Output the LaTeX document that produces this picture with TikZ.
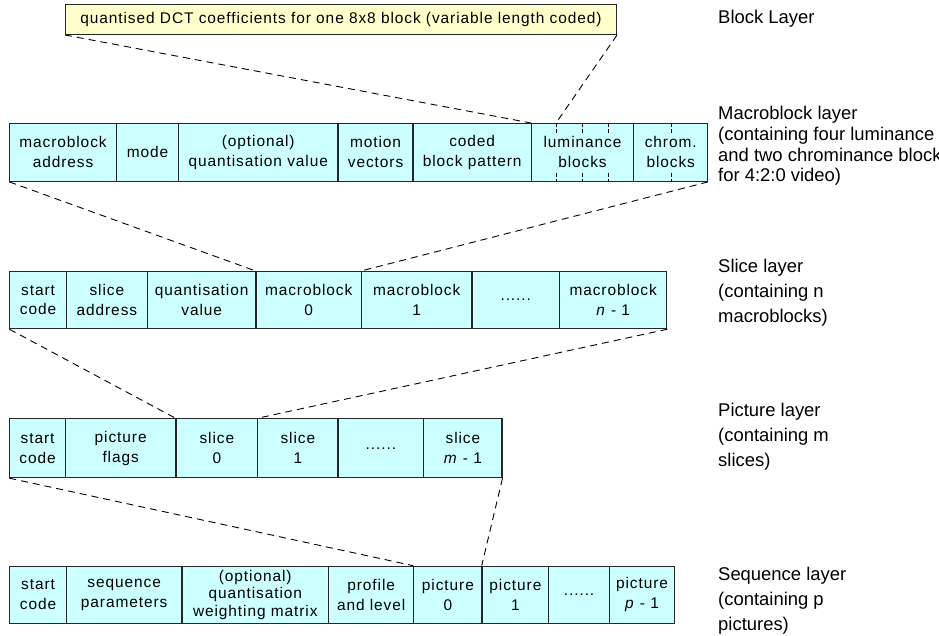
\documentclass[tikz,border=0pt]{standalone}
\usepackage{fontspec}
\setmainfont{Liberation Sans}
\newfontfamily\cellfont[LetterSpace=6]{Liberation Sans}
\definecolor{cellcyan}{HTML}{CCFFFF}
\definecolor{blockyellow}{HTML}{FFFFCC}

\begin{document}
\begin{tikzpicture}[x=1bp,y=-1bp,
  cell/.style={draw=black!85,line width=1.1bp,fill=cellcyan,anchor=north west,
    inner sep=0pt,align=center,font=\cellfont\fontsize{15.5}{20}\selectfont},
  blockbox/.style={cell,fill=blockyellow},
  layer/.style={anchor=base west,inner sep=0pt,align=left,
    font=\fontsize{18.5}{25}\selectfont},
  link/.style={draw=black,line width=0.9bp,dash pattern=on 7bp off 5bp},
  tick/.style={draw=black,line width=0.9bp,dash pattern=on 4bp off 2bp}]
\useasboundingbox (0,0) rectangle (939,636);

% block layer
\node[blockbox,minimum width=553,minimum height=30] (blk) at (65,4)
  {quantised DCT coefficients for one 8x8 block (variable length coded)};

% macroblock layer
\node[cell,minimum width=106.7,minimum height=58] (mbaddr) at (9.3,123) {macroblock\\address};
\node[cell,minimum width=62.3,minimum height=58] (mbmode) at (116,123) {mode};
\node[cell,minimum width=159.4,minimum height=58] (mbquant) at (178.3,123) {(optional)\\quantisation value};
\node[cell,minimum width=75,minimum height=58] (mbmv) at (337.7,123) {motion\\vectors};
\node[cell,minimum width=118.3,minimum height=58] (mbcbp) at (412.7,123) {coded\\block pattern};
\node[cell,minimum width=102.3,minimum height=58] (mblum) at (531,123) {luminance\\blocks};
\node[cell,minimum width=74,minimum height=58] (mbchr) at (633.3,123) {chrom.\\blocks};
\coordinate (lum1) at (556,123);
\foreach \x in {556,582.3,608.3,671.7} {
  \draw[tick] (\x,123) -- (\x,135);
  \draw[tick] (\x,173) -- (\x,181);
}

% slice layer
\node[cell,minimum width=56.7,minimum height=57.3] (slstart) at (9.3,271) {start\\code};
\node[cell,minimum width=81,minimum height=57.3] (sladdr) at (66,271) {slice\\address};
\node[cell,minimum width=108.7,minimum height=57.3] (slquant) at (147,271) {quantisation\\value};
\node[cell,minimum width=105.3,minimum height=57.3] (slmb0) at (255.7,271) {macroblock\\0};
\node[cell,minimum width=110.7,minimum height=57.3] (slmb1) at (361,271) {macroblock\\1};
\node[cell,minimum width=87.3,minimum height=57.3] (sldots) at (471.7,271) {......};
\node[cell,minimum width=107.7,minimum height=57.3] (slmbn) at (559,271) {macroblock\\\textit{n} - 1};

% picture layer
\node[cell,minimum width=55.7,minimum height=59] (pcstart) at (9.3,418.3) {start\\code};
\node[cell,minimum width=110.7,minimum height=59] (pcflags) at (65,418.3) {picture\\flags};
\node[cell,minimum width=81.6,minimum height=59] (pcsl0) at (175.7,418.3) {slice\\0};
\node[cell,minimum width=80.4,minimum height=59] (pcsl1) at (257.3,418.3) {slice\\1};
\node[cell,minimum width=85.6,minimum height=59] (pcdots) at (337.7,418.3) {......};
\node[cell,minimum width=78.4,minimum height=59] (pcslm) at (423.3,418.3) {slice\\\textit{m} - 1};

% sequence layer
\node[cell,minimum width=56.7,minimum height=57.6] (sqstart) at (9.3,565.7) {start\\code};
\node[cell,minimum width=115.7,minimum height=57.6] (sqparam) at (66,565.7) {sequence\\parameters};
\node[cell,minimum width=146.6,minimum height=57.6,font=\cellfont\fontsize{15.5}{18}\selectfont]
  (sqmatrix) at (181.7,565.7) {(optional)\\quantisation\\weighting matrix};
\node[cell,minimum width=85,minimum height=57.6] (sqprof) at (328.3,565.7) {profile\\and level};
\node[cell,minimum width=68.4,minimum height=57.6] (sqpic0) at (413.3,565.7) {picture\\0};
\node[cell,minimum width=66.6,minimum height=57.6] (sqpic1) at (481.7,565.7) {picture\\1};
\node[cell,minimum width=60.7,minimum height=57.6] (sqdots) at (548.3,565.7) {......};
\node[cell,minimum width=65.3,minimum height=57.6] (sqpicp) at (609,565.7) {picture\\\textit{p} - 1};

% links between layers
\draw[link] (blk.south west) -- (mblum.north west);
\draw[link] (blk.south east) -- (lum1);
\draw[link] (mbaddr.south west) -- (slmb0.north west);
\draw[link] (mbchr.south east) -- (slmb1.north west);
\draw[link] (slstart.south west) -- (pcsl0.north west);
\draw[link] (slmbn.south east) -- (pcsl1.north west);
\draw[link] (pcstart.south west) -- (sqpic0.north west);
\draw[link] (pcslm.south east) -- (sqpic1.north west);

% layer names (base = baseline of last line)
\node[layer] (lblblk) at (718,24) {Block Layer};
\node[layer,font=\fontsize{18.5}{21}\selectfont] (lblmb) at (718,182)
  {Macroblock layer\\(containing four luminance\\and two chrominance blocks\\for 4:2:0 video)};
\node[layer] (lblsl) at (718,322) {Slice layer\\(containing n\\macroblocks)};
\node[layer] (lblpc) at (718,466) {Picture layer\\(containing m\\slices)};
\node[layer] (lblsq) at (718,630) {Sequence layer\\(containing p\\pictures)};
\end{tikzpicture}
\end{document}
